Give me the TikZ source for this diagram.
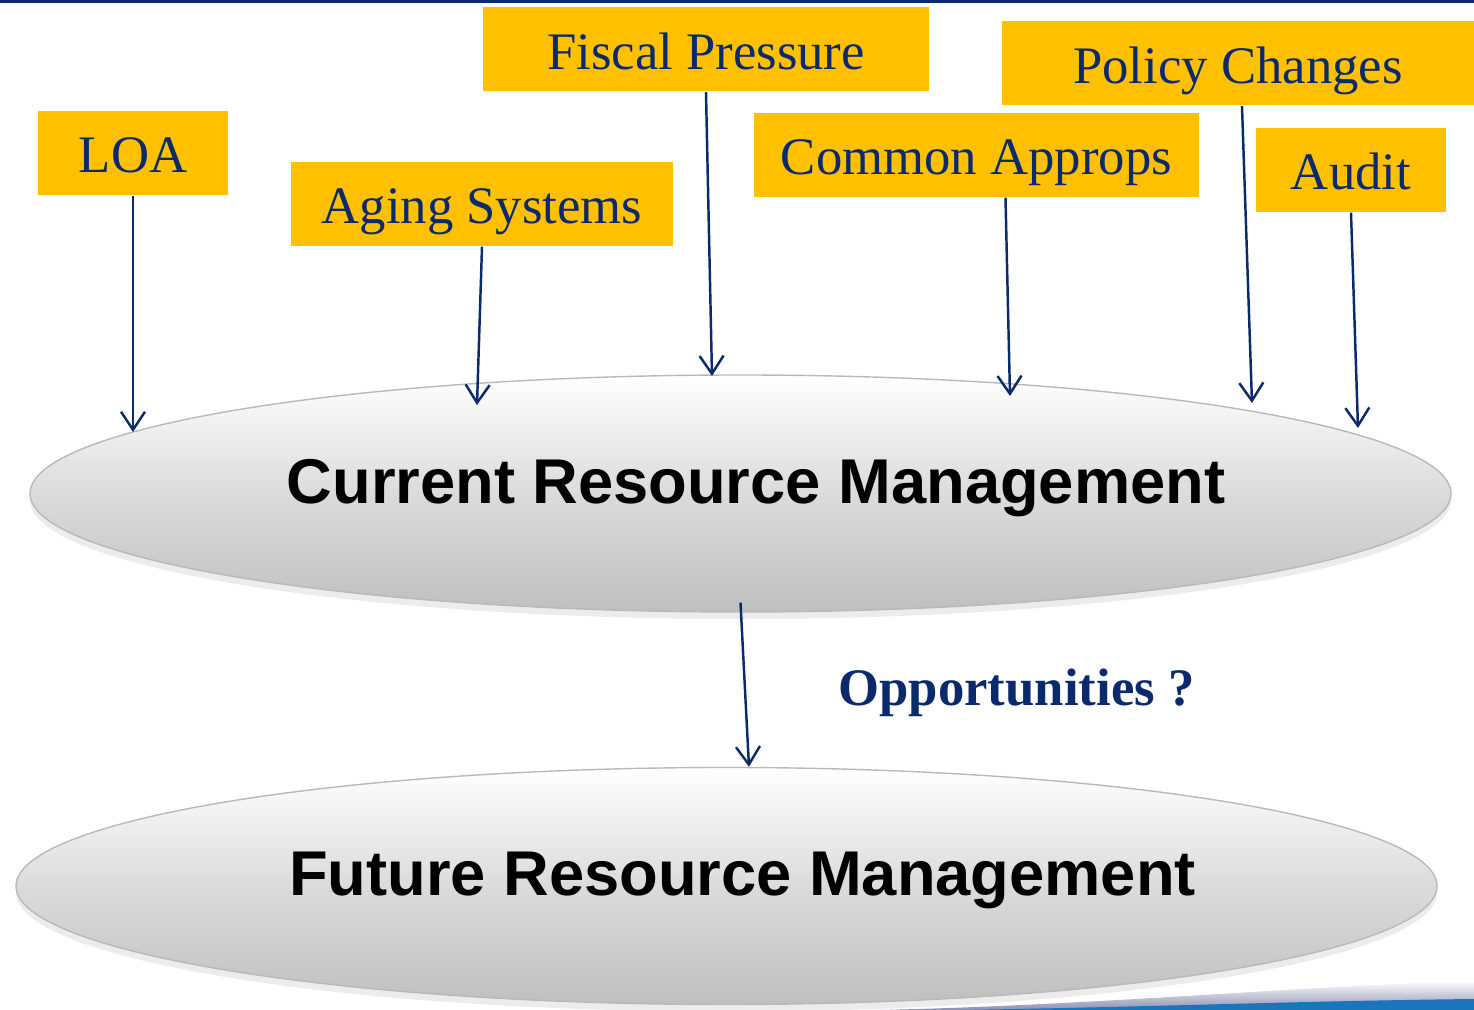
\documentclass[tikz,border=0pt]{standalone}
\usepackage{fontspec}
\setmainfont{Liberation Serif}
\newfontfamily\headfont{Liberation Sans}
\usetikzlibrary{arrows.meta,shapes.geometric,shadows}
\definecolor{navy}{HTML}{0B2A6B}
\definecolor{gold}{HTML}{FFC000}
\definecolor{swoosh}{HTML}{1B75BB}
\definecolor{haze}{HTML}{8E90B2}

\begin{document}
\begin{tikzpicture}[
  factor/.style={fill=gold,text=navy,inner sep=0pt,minimum height=8.4mm,
    text height=4mm,text depth=0pt,font=\fontsize{15}{18}\selectfont},
  flow/.style={navy,line width=0.7pt,-{Straight Barb[length=1.8mm,width=2.4mm]}},
  plate/.style={ellipse,draw=gray!55,line width=0.4pt,inner sep=0pt,
    minimum width=14.21cm,minimum height=2.37cm,
    top color=white,bottom color=gray!50,middle color=gray!28,
    drop shadow={shadow xshift=0pt,shadow yshift=-0.7mm,opacity=0.15}},
  headline/.style={font=\headfont\bfseries\fontsize{18}{22}\selectfont}
]
  \useasboundingbox (0,0) rectangle (14.74,10.10);
  \fill[navy] (0,10.07) rectangle (14.74,10.10);

  % swoosh at the foot
  \shade[top color=white,bottom color=haze] (8.8,0) .. controls (11,0.05) and (13,0.24) .. (14.74,0.29) -- (14.74,0) -- cycle;
  \fill[swoosh] (9.6,0) .. controls (11.5,0.03) and (13,0.09) .. (14.74,0.11) -- (14.74,0) -- cycle;

  \node[plate] (cur) at (7.405,5.165) {};
  \node[headline] (curtxt) at (7.56,5.22) {Current Resource Management};
  \node[plate] (fut) at (7.265,1.24) {};
  \node[headline] (futtxt) at (7.425,1.30) {Future Resource Management};

  \foreach \name/\x/\y/\w/\txt in {loa/1.33/8.57/1.90/LOA, aging/4.82/8.06/3.82/Aging Systems,
      fiscal/7.06/9.605/4.46/Fiscal Pressure, common/9.765/8.55/4.45/Common Approps,
      policy/12.38/9.465/4.72/Policy Changes, audit/13.51/8.40/1.90/Audit}
    \node[factor,minimum width=\w cm] (\name) at (\x,\y) {\txt};

  \foreach \name/\dx/\ex/\ey in {loa/0/1.33/5.78, aging/0/4.77/6.05, fiscal/0/7.12/6.34,
      common/0.29/10.10/6.14, policy/0.04/12.52/6.07, audit/0/13.58/5.82} {
    \coordinate (\name-in) at (\ex,\ey);
    \draw[flow] ([xshift=\dx cm]\name.south) -- (\name-in);
  }

  \draw[flow] ([yshift=1mm]cur.south) -- ([xshift=2.25mm]fut.north);
  \node[text=navy,font=\bfseries\fontsize{15}{18}\selectfont] (opp) at (10.165,3.17) {Opportunities ?};
\end{tikzpicture}
\end{document}
